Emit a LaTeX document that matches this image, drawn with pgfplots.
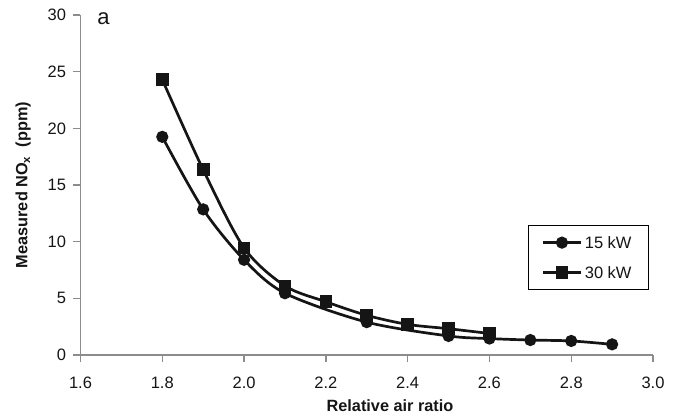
\documentclass[border=0pt]{standalone}
\usepackage{fontspec}
\setmainfont{Liberation Sans}
\usepackage{pgfplots}
\pgfplotsset{compat=1.18}
\definecolor{axgray}{HTML}{8C8C8C}
\definecolor{ink}{HTML}{151515}

\begin{document}
\begin{tikzpicture}
\begin{axis}[
  at={(0pt,0pt)}, anchor=south west,
  scale only axis,
  width=572.5pt, height=340pt,
  xmin=1.6, xmax=3.0,
  ymin=0, ymax=30,
  xtick={1.6,1.8,2.0,2.2,2.4,2.6,2.8,3.0},
  ytick={0,5,10,15,20,25,30},
  xticklabel style={/pgf/number format/fixed, /pgf/number format/fixed zerofill, /pgf/number format/precision=1, yshift=-11pt},
  yticklabel style={xshift=-4pt},
  /pgf/number format/assume math mode=true,
  axis x line*=bottom, axis y line*=left,
  axis line style={axgray, line width=1.3pt, -},
  tick style={axgray, line width=1.3pt},
  tick align=outside,
  major tick length=7pt,
  ticklabel style={font=\fontsize{16.5}{19}\selectfont, text=ink},
  xlabel={\textbf{Relative air ratio}},
  ylabel={\textbf{Measured NO\textsubscript{x}\ \ (ppm)}},
  label style={font=\fontsize{16.3}{19}\selectfont, text=ink},
  xlabel style={at={(axis description cs:0.5406,-0.15)}, anchor=center},
  ylabel style={at={(axis description cs:-0.1,0.5)}, anchor=center, rotate=0},
  clip=false,
  legend style={at={(rel axis cs:0.781,0.382)}, anchor=north west,
    draw=black, line width=1pt, font=\fontsize{16.5}{19}\selectfont,
    inner xsep=14pt, inner ysep=8pt, row sep=12pt, text=ink,
    nodes={inner sep=3pt, text height=12pt, text depth=0pt}},
  legend cell align=left,
  legend image code/.code={\draw[#1, mark repeat=2, mark phase=2] plot coordinates {(0pt,0pt) (18.5pt,0pt) (37pt,0pt)};},
]
\addplot[ink, line width=2.7pt, smooth, mark=*, mark size=4.7pt] coordinates {
  (1.8,19.25) (1.9,12.85) (2.0,8.4) (2.1,5.45) (2.3,2.9)
  (2.5,1.68) (2.6,1.45) (2.7,1.32) (2.8,1.24) (2.9,0.94)
};
\addlegendentry{15 kW}
\addplot[ink, line width=2.7pt, smooth, mark=square*, mark size=5pt] coordinates {
  (1.8,24.3) (1.9,16.35) (2.0,9.45) (2.1,6.1) (2.2,4.7)
  (2.3,3.5) (2.4,2.7) (2.5,2.32) (2.6,1.9)
};
\addlegendentry{30 kW}
\node[anchor=base west, font=\fontsize{22}{26}\selectfont, text=ink, inner sep=0pt]
  at (axis cs:1.641,29.12) {a};
\end{axis}
\pgfresetboundingbox
\path[use as bounding box] (-80.5pt,-61pt) rectangle (599.5pt,355pt);
\end{tikzpicture}
\end{document}
